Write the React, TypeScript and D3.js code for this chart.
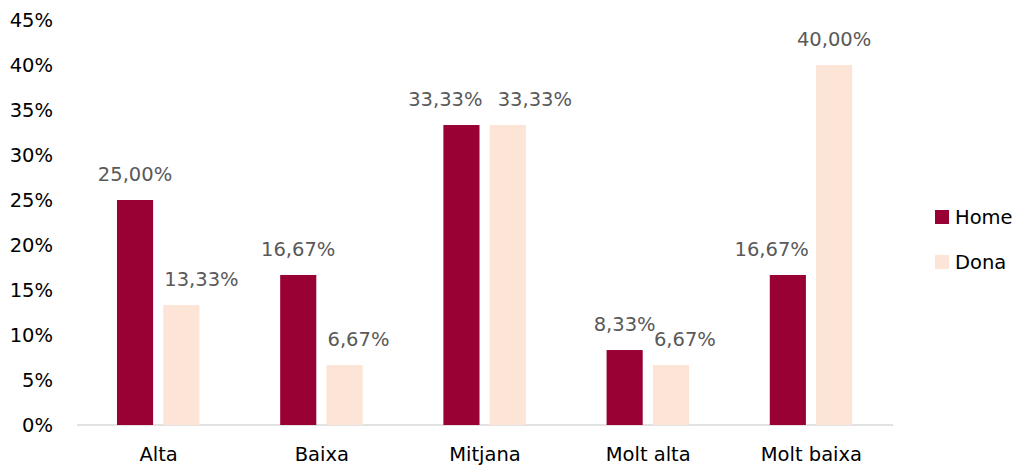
import * as d3 from "d3";
import {useEffect, useRef} from "react";

const categories = ["Alta", "Baixa", "Mitjana", "Molt alta", "Molt baixa"];
const seriesNames = ["Home", "Dona"];
const homeValues = [25.0, 16.67, 33.33, 8.33, 16.67];
const donaValues = [13.33, 6.67, 33.33, 6.67, 40.0];
const yTicks = [0, 5, 10, 15, 20, 25, 30, 35, 40, 45];
const colors = ["#990033", "#FCE4D6"];

const W = 1020;
const H = 466;
const FONT = "'DejaVu Sans', sans-serif";
const FS = 19.5;

const App = () => {
    const ref = useRef<SVGSVGElement>(null);

    useEffect(() => {
        const svg = d3.select(ref.current);
        svg.selectAll("*").remove();

        const x = d3.scaleBand().domain(categories).range([77, 893]);
        const bw = x.bandwidth();
        const inner = d3.scaleBand().domain(seriesNames).range([0.245 * bw, 0.75 * bw]).paddingInner(0.22);
        const y = d3.scaleLinear().domain([0, 45]).range([425, 20]);

        // y tick labels
        svg.append("g")
            .selectAll("text")
            .data(yTicks)
            .enter()
            .append("text")
            .attr("x", 53)
            .attr("y", d => y(d))
            .attr("dy", "0.35em")
            .attr("text-anchor", "end")
            .attr("font-family", FONT)
            .attr("font-size", FS)
            .attr("fill", "#000")
            .text(d => d + "%");

        // axis line
        svg.append("line")
            .attr("x1", 77).attr("x2", 893)
            .attr("y1", y(0)).attr("y2", y(0))
            .attr("stroke", "#d9d9d9")
            .attr("stroke-width", 1.5);

        const series = [homeValues, donaValues];
        const fmt = (v: number) => v.toFixed(2).replace(".", ",") + "%";

        series.forEach((vals, si) => {
            const other = series[1 - si];
            const g = svg.append("g");
            const rows = categories.map((c, i) => ({c, v: vals[i], o: other[i]}));
            g.selectAll("rect")
                .data(rows)
                .enter()
                .append("rect")
                .attr("x", d => x(d.c)! + inner(seriesNames[si])!)
                .attr("y", d => y(d.v))
                .attr("width", inner.bandwidth())
                .attr("height", d => y(0) - y(d.v))
                .attr("fill", colors[si]);
            // the label of the shorter bar is pushed away from its neighbour
            g.selectAll("text")
                .data(rows)
                .enter()
                .append("text")
                .attr("x", d => {
                    const left = x(d.c)! + inner(seriesNames[si])!;
                    if (d.v > d.o) return left + inner.bandwidth() / 2;
                    const gap = d.v === d.o ? 8 : 1;
                    return si === 0 ? left + inner.bandwidth() + 3 : left + gap;
                })
                .attr("y", d => y(d.v) - 19)
                .attr("text-anchor", d => d.v > d.o ? "middle" : (si === 0 ? "end" : "start"))
                .attr("font-family", FONT)
                .attr("font-size", FS)
                .attr("fill", "#595959")
                .text(d => fmt(d.v));
        });

        // category labels
        svg.append("g")
            .selectAll("text")
            .data(categories)
            .enter()
            .append("text")
            .attr("x", d => x(d)! + bw / 2)
            .attr("y", 461)
            .attr("text-anchor", "middle")
            .attr("font-family", FONT)
            .attr("font-size", FS)
            .attr("fill", "#000")
            .text(d => d);

        // legend
        const leg = svg.append("g")
            .selectAll("g")
            .data(seriesNames)
            .enter()
            .append("g")
            .attr("transform", (d, i) => "translate(935," + (210 + i * 45) + ")");
        leg.append("rect")
            .attr("width", 14).attr("height", 14)
            .attr("fill", (d, i) => colors[i]);
        leg.append("text")
            .attr("x", 20)
            .attr("y", 7)
            .attr("dy", "0.35em")
            .attr("font-family", FONT)
            .attr("font-size", FS)
            .attr("fill", "#000")
            .text(d => d);
    }, []);

    return (
        <svg
            ref={ref}
            width={W}
            height={H}
            style={{position: "absolute", left: 0, top: 0, background: "#fff"}}
        ></svg>
    );
};

export default App;
